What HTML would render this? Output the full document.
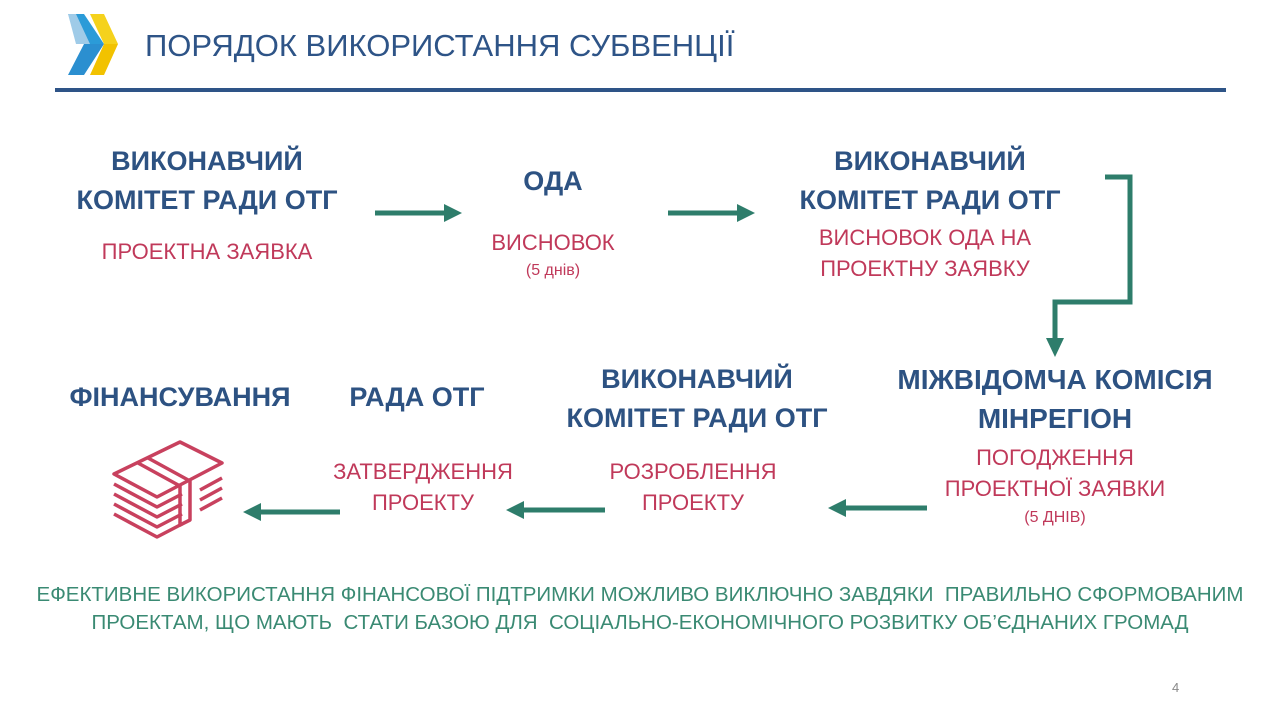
<!DOCTYPE html><html><head><meta charset="utf-8"><style>
body{margin:0;width:1280px;height:720px;background:#fff;position:relative;font-family:"Liberation Sans",sans-serif;overflow:hidden}
.t{position:absolute;text-align:center;white-space:nowrap}
.h{color:#2d5282;font-weight:bold;font-size:27px;line-height:39px}
.r{color:#c0395a;font-size:22px;line-height:31px}
.g{color:#3a8a73;font-size:20.5px;line-height:28px}
</style></head><body>
<svg width="1280" height="720" style="position:absolute;left:0;top:0">
<polygon points="68,14 84,14 104,44 84,44" fill="#2b9bd8"/>
<polygon points="84,44 104,44 84,75 68,75" fill="#2b8fd0"/>
<polygon points="68,14 76,14 90,44 76,44" fill="#9fcbe8"/>
<polygon points="90,14 104,14 118,44 104,44" fill="#f5d21c"/>
<polygon points="104,44 118,44 104,75 90,75" fill="#f2c200"/>
<rect x="55" y="88" width="1171" height="4" fill="#2e5487"/>
<g stroke="#2e7d6b" stroke-width="5" fill="#2e7d6b">
<line x1="375" y1="213" x2="445" y2="213"/><polygon points="462,213 444,204 444,222" stroke="none"/>
<line x1="668" y1="213" x2="738" y2="213"/><polygon points="755,213 737,204 737,222" stroke="none"/>
<polyline points="1105,177 1130,177 1130,302 1055,302 1055,340" fill="none"/><polygon points="1055,357 1046,338 1064,338" stroke="none"/>
<line x1="927" y1="508" x2="845" y2="508"/><polygon points="828,508 846,499 846,517" stroke="none"/>
<line x1="605" y1="510" x2="523" y2="510"/><polygon points="506,510 524,501 524,519" stroke="none"/>
<line x1="340" y1="512" x2="260" y2="512"/><polygon points="243,512 261,503 261,521" stroke="none"/>
</g>
<g stroke="#c8415e" stroke-width="3.5" fill="none" stroke-linejoin="round">
<polygon points="114,474 180,442 222,463 157,497"/>
<polyline points="114,484 157,507 182,494"/>
<polyline points="114,494 157,517 182,504"/>
<polyline points="114,504 157,527 182,514"/>
<polyline points="114,514 157,537 182,524"/>
<polyline points="200,490 222,478"/><polyline points="200,500 222,488"/><polyline points="200,510 222,498"/>
<polyline points="148,458 190,481 190,520 180,525 180,486 138,463"/>
</g>
</svg>
<div class="t" style="left:145px;top:28px;font-size:31px;color:#2e5487">ПОРЯДОК ВИКОРИСТАННЯ СУБВЕНЦІЇ</div>
<div class="t h" style="left:57px;width:300px;top:142px">ВИКОНАВЧИЙ<br>КОМІТЕТ РАДИ ОТГ</div>
<div class="t r" style="left:57px;width:300px;top:236px">ПРОЕКТНА ЗАЯВКА</div>
<div class="t h" style="left:453px;width:200px;top:162px">ОДА</div>
<div class="t r" style="left:453px;width:200px;top:227px">ВИСНОВОК</div>
<div class="t" style="left:453px;width:200px;top:262px;color:#c0395a;font-size:16px">(5 днів)</div>
<div class="t h" style="left:780px;width:300px;top:142px">ВИКОНАВЧИЙ<br>КОМІТЕТ РАДИ ОТГ</div>
<div class="t r" style="left:775px;width:300px;top:222px">ВИСНОВОК ОДА НА<br>ПРОЕКТНУ ЗАЯВКУ</div>
<div class="t h" style="left:30px;width:300px;top:378px">ФІНАНСУВАННЯ</div>
<div class="t h" style="left:317px;width:200px;top:378px">РАДА ОТГ</div>
<div class="t h" style="left:547px;width:300px;top:360px">ВИКОНАВЧИЙ<br>КОМІТЕТ РАДИ ОТГ</div>
<div class="t h" style="left:880px;width:350px;top:360px;font-size:28px">МІЖВІДОМЧА КОМІСІЯ<br>МІНРЕГІОН</div>
<div class="t r" style="left:323px;width:200px;top:456px">ЗАТВЕРДЖЕННЯ<br>ПРОЕКТУ</div>
<div class="t r" style="left:593px;width:200px;top:456px">РОЗРОБЛЕННЯ<br>ПРОЕКТУ</div>
<div class="t r" style="left:905px;width:300px;top:442px">ПОГОДЖЕННЯ<br>ПРОЕКТНОЇ ЗАЯВКИ</div>
<div class="t" style="left:905px;width:300px;top:509px;color:#c0395a;font-size:16px">(5 ДНІВ)</div>
<div class="t g" style="left:0;width:1280px;top:581px">ЕФЕКТИВНЕ ВИКОРИСТАННЯ ФІНАНСОВОЇ ПІДТРИМКИ МОЖЛИВО ВИКЛЮЧНО ЗАВДЯКИ&nbsp; ПРАВИЛЬНО СФОРМОВАНИМ<br>ПРОЕКТАМ, ЩО МАЮТЬ&nbsp; СТАТИ БАЗОЮ ДЛЯ&nbsp; СОЦІАЛЬНО-ЕКОНОМІЧНОГО РОЗВИТКУ ОБ’ЄДНАНИХ ГРОМАД</div>
<div class="t" style="left:1172px;top:680px;font-size:13px;color:#888">4</div>
</body></html>
